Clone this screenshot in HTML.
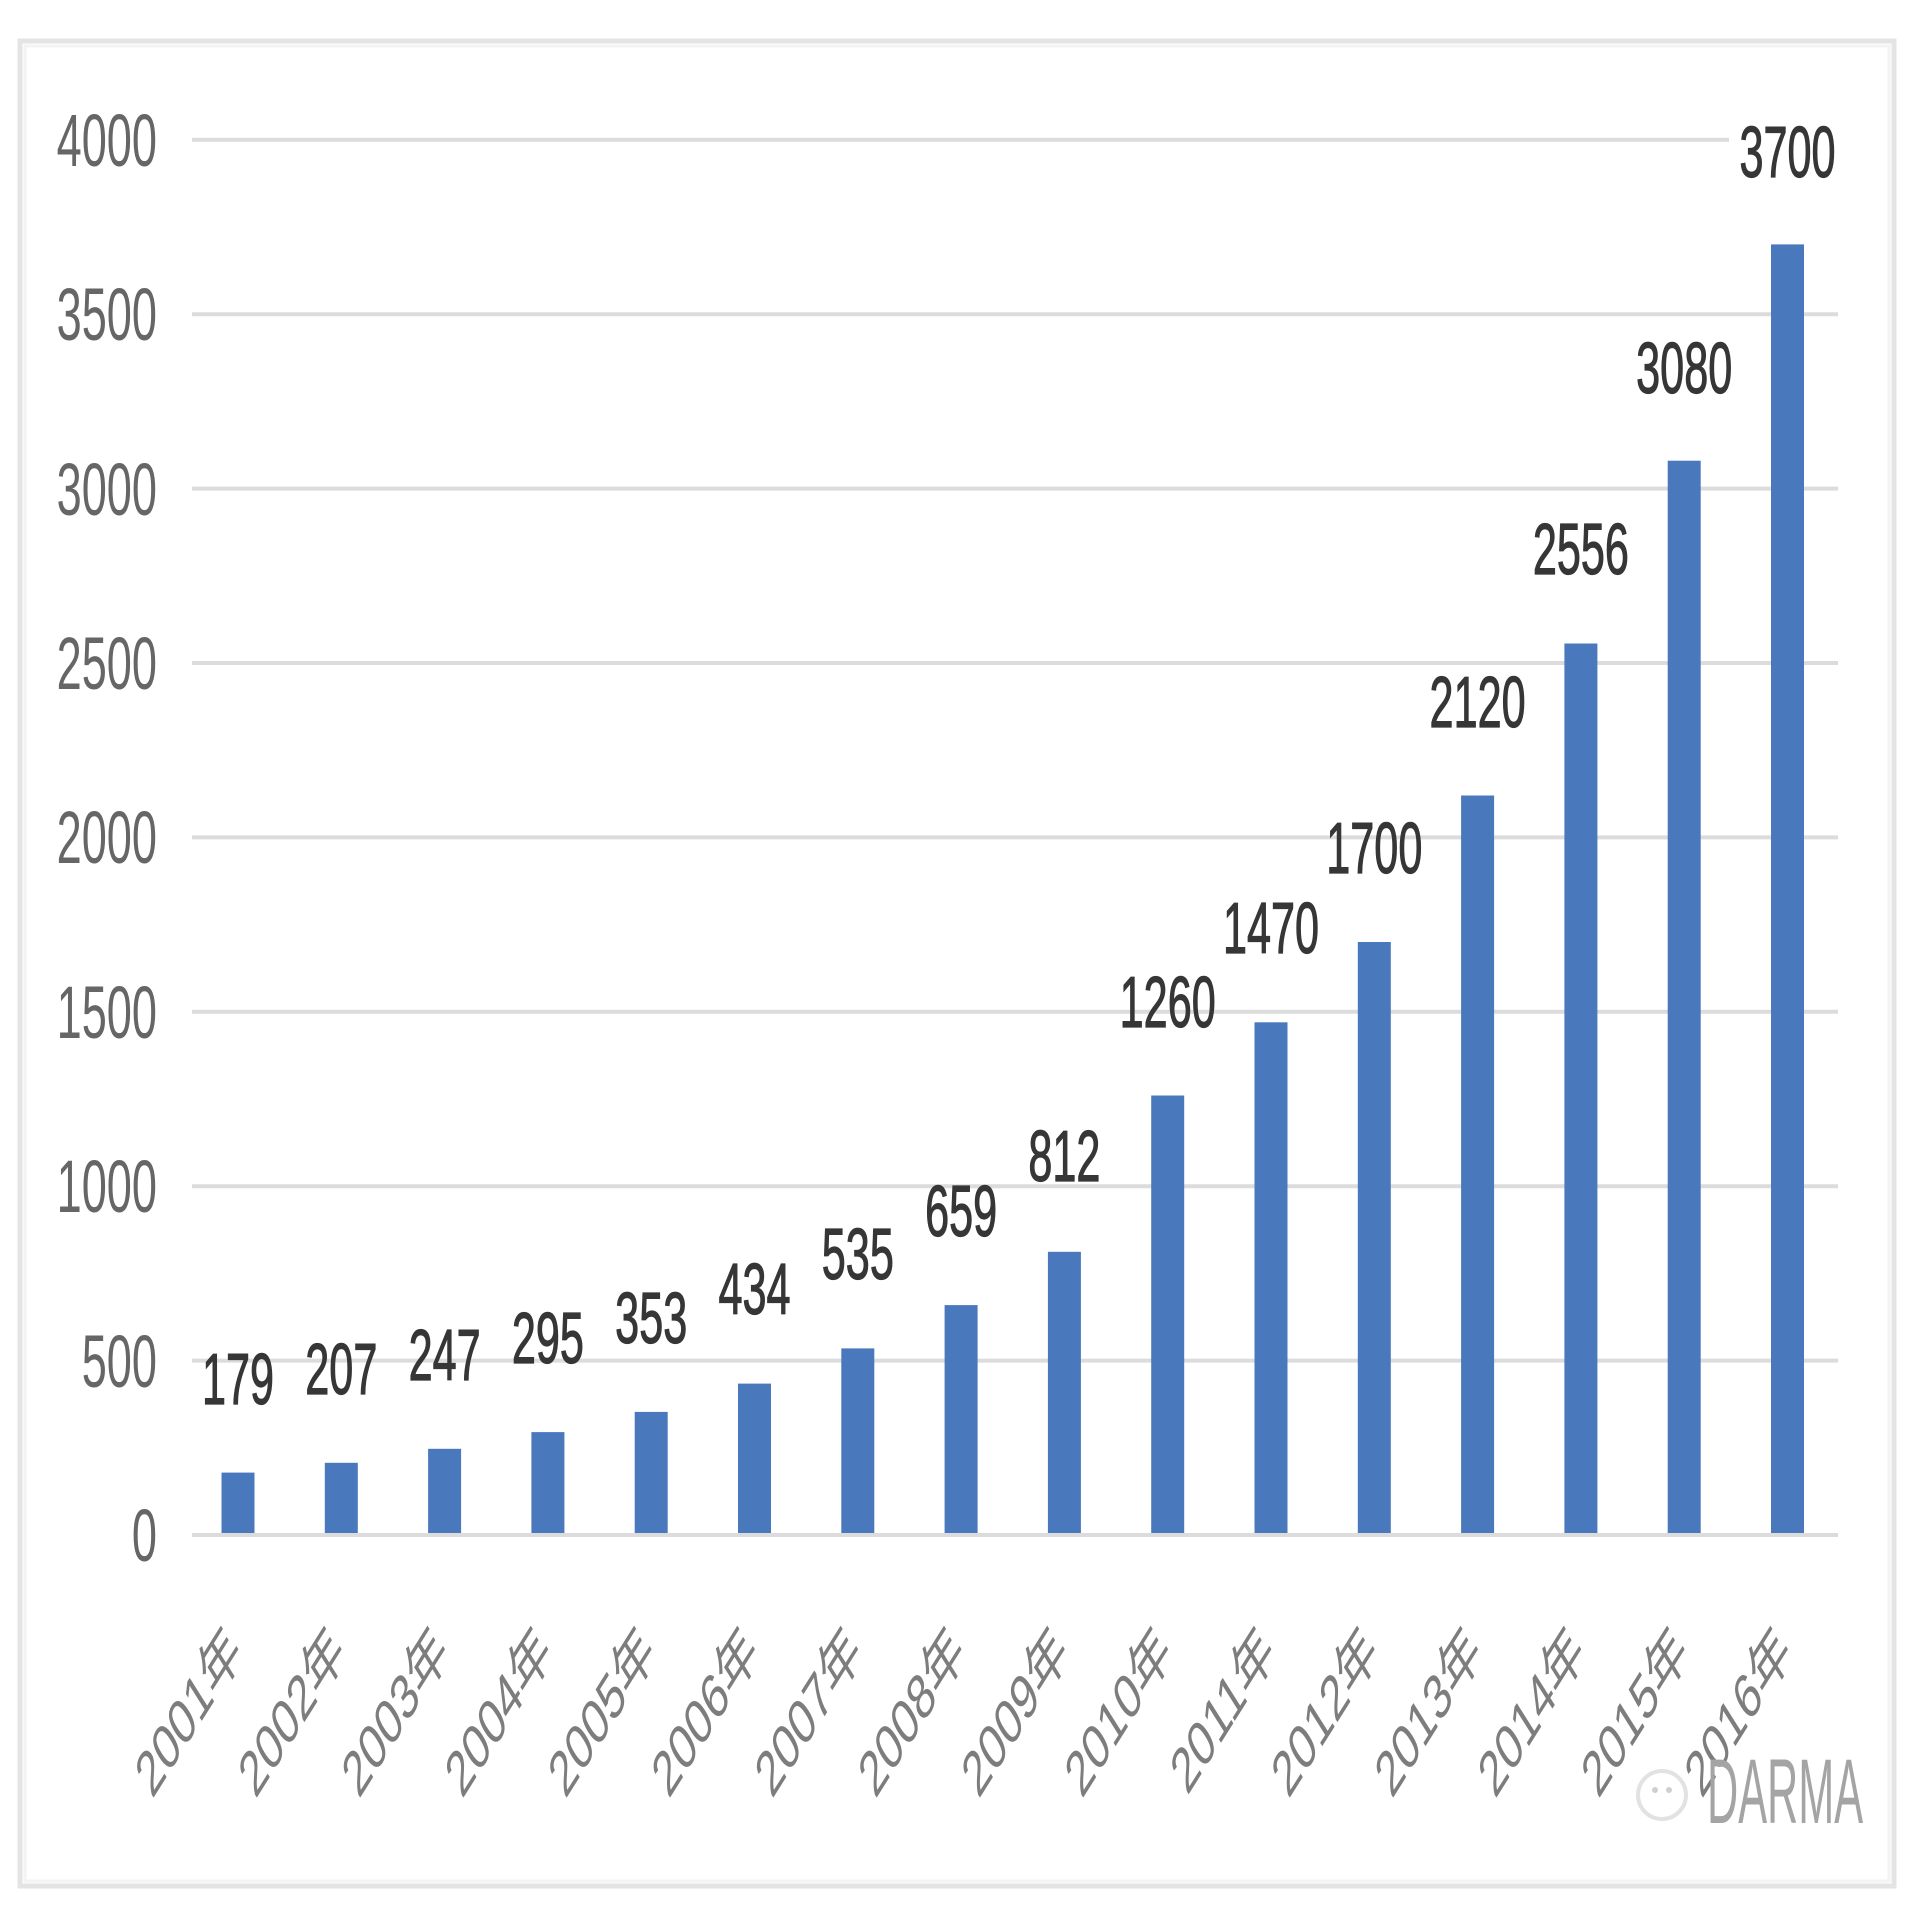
<!DOCTYPE html>
<html><head><meta charset="utf-8"><style>
html,body{margin:0;padding:0;background:#fff;}
svg{display:block;}
text{font-family:"Liberation Sans","Noto Sans CJK SC",sans-serif;}
</style></head><body>
<svg width="1920" height="1920" viewBox="0 0 1920 1920" xmlns="http://www.w3.org/2000/svg">
<rect x="0" y="0" width="1920" height="1920" fill="#fff"/>
<!-- frame -->
<rect x="20" y="41" width="1874" height="1845" fill="none" stroke="#e4e4e4" stroke-width="5"/>
<rect x="25" y="46" width="1864" height="1835" fill="none" stroke="#f3f3f3" stroke-width="3"/>
<!-- gridlines -->
<g stroke="#dcdcdc" stroke-width="4">
<line x1="192" y1="1535" x2="1838" y2="1535"/>
<line x1="192" y1="1360.6" x2="1838" y2="1360.6"/>
<line x1="192" y1="1186.2" x2="1838" y2="1186.2"/>
<line x1="192" y1="1011.8" x2="1838" y2="1011.8"/>
<line x1="192" y1="837.4" x2="1838" y2="837.4"/>
<line x1="192" y1="663" x2="1838" y2="663"/>
<line x1="192" y1="488.6" x2="1838" y2="488.6"/>
<line x1="192" y1="314.2" x2="1838" y2="314.2"/>
<line x1="192" y1="139.8" x2="1729" y2="139.8"/>
</g>
<!-- y axis labels -->
<g fill="#666" font-size="74" text-anchor="end">
<text transform="translate(157,1561) scale(0.61,1)">0</text>
<text transform="translate(157,1387) scale(0.61,1)">500</text>
<text transform="translate(157,1212) scale(0.61,1)">1000</text>
<text transform="translate(157,1038) scale(0.61,1)">1500</text>
<text transform="translate(157,863) scale(0.61,1)">2000</text>
<text transform="translate(157,689) scale(0.61,1)">2500</text>
<text transform="translate(157,515) scale(0.61,1)">3000</text>
<text transform="translate(157,340) scale(0.61,1)">3500</text>
<text transform="translate(157,166) scale(0.61,1)">4000</text>
</g>
<!-- bars -->
<g fill="#4a78bc">
<rect x="221.5" y="1472.6" width="33" height="60.4"/>
<rect x="324.8" y="1462.8" width="33" height="70.2"/>
<rect x="428.1" y="1448.8" width="33" height="84.2"/>
<rect x="531.4" y="1432.1" width="33" height="100.9"/>
<rect x="634.7" y="1411.9" width="33" height="121.1"/>
<rect x="738.0" y="1383.6" width="33" height="149.4"/>
<rect x="841.3" y="1348.4" width="33" height="184.6"/>
<rect x="944.6" y="1305.1" width="33" height="227.9"/>
<rect x="1047.9" y="1251.8" width="33" height="281.2"/>
<rect x="1151.2" y="1095.5" width="33" height="437.5"/>
<rect x="1254.5" y="1022.3" width="33" height="510.7"/>
<rect x="1357.8" y="942.0" width="33" height="591.0"/>
<rect x="1461.1" y="795.5" width="33" height="737.5"/>
<rect x="1564.4" y="643.5" width="33" height="889.5"/>
<rect x="1667.7" y="460.7" width="33" height="1072.3"/>
<rect x="1771.0" y="244.4" width="33" height="1288.6"/>
</g>
<!-- data labels -->
<g fill="#363636" stroke="#363636" stroke-width="1.2" font-size="72" text-anchor="middle">
<text transform="translate(238,1404) scale(0.6,1)">179</text>
<text transform="translate(341.3,1394) scale(0.6,1)">207</text>
<text transform="translate(444.6,1380) scale(0.6,1)">247</text>
<text transform="translate(547.9,1363) scale(0.6,1)">295</text>
<text transform="translate(651.2,1343) scale(0.6,1)">353</text>
<text transform="translate(754.5,1314) scale(0.6,1)">434</text>
<text transform="translate(857.8,1279) scale(0.6,1)">535</text>
<text transform="translate(961.1,1236) scale(0.6,1)">659</text>
<text transform="translate(1064.4,1181) scale(0.6,1)">812</text>
<text transform="translate(1167.7,1027) scale(0.6,1)">1260</text>
<text transform="translate(1271.0,953) scale(0.6,1)">1470</text>
<text transform="translate(1374.3,873) scale(0.6,1)">1700</text>
<text transform="translate(1477.6,727) scale(0.6,1)">2120</text>
<text transform="translate(1580.9,574) scale(0.6,1)">2556</text>
<text transform="translate(1684.2,393) scale(0.6,1)">3080</text>
<text transform="translate(1787.5,177) scale(0.6,1)">3700</text>
</g>
<!-- x labels -->
<g fill="#7d7d7d" font-size="64" text-anchor="end">
<text transform="translate(244,1654) scale(0.63,1) rotate(-45)">2001年</text>
<text transform="translate(347.3,1654) scale(0.63,1) rotate(-45)">2002年</text>
<text transform="translate(450.6,1654) scale(0.63,1) rotate(-45)">2003年</text>
<text transform="translate(553.9,1654) scale(0.63,1) rotate(-45)">2004年</text>
<text transform="translate(657.2,1654) scale(0.63,1) rotate(-45)">2005年</text>
<text transform="translate(760.5,1654) scale(0.63,1) rotate(-45)">2006年</text>
<text transform="translate(863.8,1654) scale(0.63,1) rotate(-45)">2007年</text>
<text transform="translate(967.1,1654) scale(0.63,1) rotate(-45)">2008年</text>
<text transform="translate(1070.4,1654) scale(0.63,1) rotate(-45)">2009年</text>
<text transform="translate(1173.7,1654) scale(0.63,1) rotate(-45)">2010年</text>
<text transform="translate(1277.0,1654) scale(0.63,1) rotate(-45)">2011年</text>
<text transform="translate(1380.3,1654) scale(0.63,1) rotate(-45)">2012年</text>
<text transform="translate(1483.6,1654) scale(0.63,1) rotate(-45)">2013年</text>
<text transform="translate(1586.9,1654) scale(0.63,1) rotate(-45)">2014年</text>
<text transform="translate(1690.2,1654) scale(0.63,1) rotate(-45)">2015年</text>
<text transform="translate(1793.5,1654) scale(0.63,1) rotate(-45)">2016年</text>
</g>
<!-- watermark -->
<circle cx="1662" cy="1795" r="24" fill="none" stroke="#e2e2e2" stroke-width="4"/>
<circle cx="1655" cy="1790" r="3" fill="#cfcfcf"/>
<circle cx="1669" cy="1790" r="3" fill="#cfcfcf"/>
<text transform="translate(1707,1823) scale(0.47,1)" fill="#a4a4a4" font-size="92">DARMA</text>
</svg>
</body></html>
